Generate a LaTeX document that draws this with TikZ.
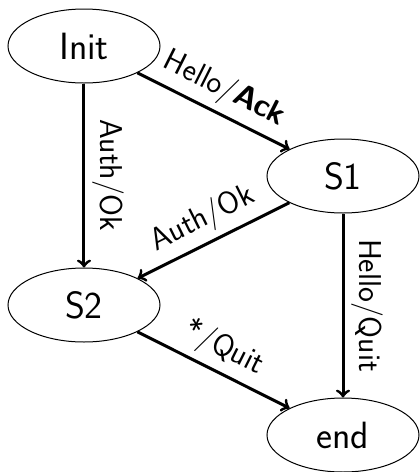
\documentclass[tikz,border=0pt]{standalone}
\usetikzlibrary{shapes.geometric,positioning}

\begin{document}
\begin{tikzpicture}[
    font=\sffamily,
    node distance=129.5pt,
    on grid,
    state/.style={
        draw,
        ellipse,
        minimum width=76pt,
        minimum height=37pt,
        inner sep=0pt,
        font=\sffamily\fontsize{19}{22}\selectfont,
        line width=0.5pt
    },
    trans/.style={
        ->,
        line width=1.5pt
    },
    lbl/.style={
        above,
        sloped,
        font=\sffamily\fontsize{15.8}{19}\selectfont
    }
]

\useasboundingbox (-42pt,23pt) rectangle (167.5pt,-213pt);

\node[state] (init) {Init};

\node[state, below right=65pt and 129.5pt of init] (s1) {S1};

\node[state, below=of init] (s2) {S2};

\node[state, below=of s1] (end) {end};

\draw[trans] (init) -- node[lbl] {Hello/\textbf{Ack}} (s1);
\draw[trans] (init) -- node[lbl] {Auth/Ok} (s2);
\draw[trans] (s1) -- node[lbl] {Auth/Ok} (s2);
\draw[trans] (s1) -- node[lbl] {Hello/Quit} (end);
\draw[trans] (s2) -- node[lbl] {*/Quit} (end);

\end{tikzpicture}
\end{document}
